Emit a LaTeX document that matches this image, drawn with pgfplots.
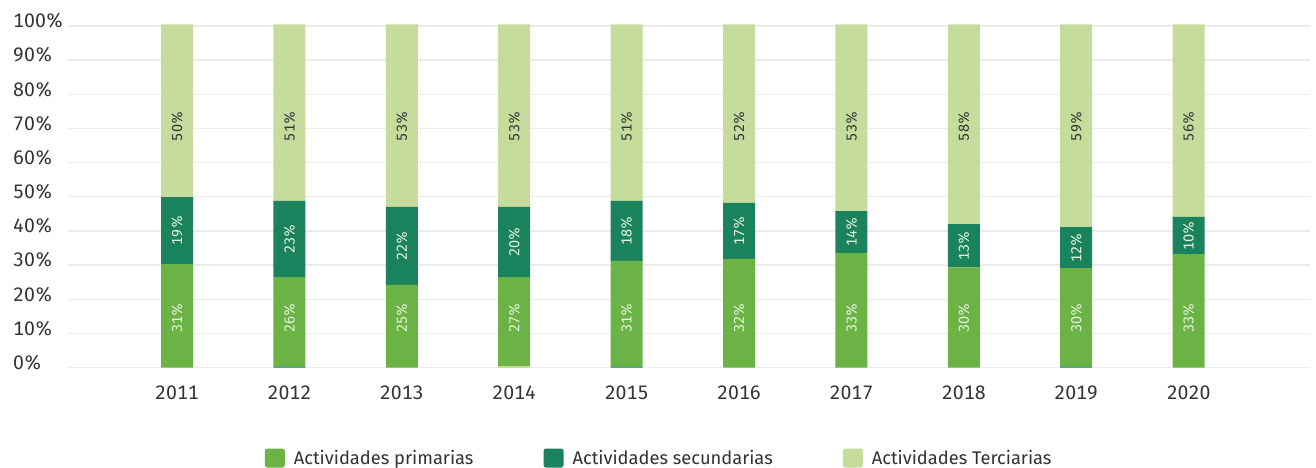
\documentclass[border=0pt]{standalone}
\usepackage{pgfplots}
\usepackage{pgfplotstable}
\pgfplotsset{compat=1.18}
\usepackage{fontspec}
\setmainfont{Fira Sans}[Numbers=Monospaced]

\definecolor{prim}{RGB}{106,179,68}
\definecolor{secu}{RGB}{26,130,93}
\definecolor{terc}{RGB}{197,220,157}
\definecolor{gridgray}{RGB}{235,235,235}
\definecolor{txt}{RGB}{51,51,51}
\definecolor{labw}{RGB}{232,243,225}

% heights (percent of the axis), labels as printed
\pgfplotstableread{
x year ed el p s t pl sl tl py sy ty
0 2011 0   0   30.3 19.6 50.6 31 19 50 14.4 40.1 70.6
1 2012 0.3 0   26.2 22.3 51.7 26 23 51 14.4 37.6 70.6
2 2013 0   0   24.2 22.8 53.5 25 22 53 14.4 35.6 70.6
3 2014 0   0.3 26.2 20.5 53.5 27 20 53 14.4 36.7 70.6
4 2015 0.3 0   30.9 17.6 51.7 31 18 51 14.4 40.0 70.6
5 2016 0   0   31.8 16.4 52.3 32 17 52 14.4 40.0 70.6
6 2017 0   0   33.5 12.3 54.7 33 14 53 14.4 39.6 70.6
7 2018 0   0   29.3 12.7 58.5 30 13 58 14.4 35.6 70.6
8 2019 0.3 0   28.8 12.0 59.4 30 12 59 14.4 35.1 70.6
9 2020 0   0   33.2 10.9 56.4 33 10 56 14.4 38.6 70.6
}\datos

\begin{document}
\begin{tikzpicture}
\begin{axis}[
    name=main,
    width=1242pt, height=341.5pt, scale only axis,
    xmin=-0.97, xmax=10.08, ymin=0, ymax=100,
    clip=false,
    ybar stacked, bar width=32pt,
    axis line style={draw=none},
    major tick length=0pt,
    ymajorgrids, grid style={draw=gridgray, line width=1.4pt},
    ytick={0,10,...,100},
    yticklabels={0\%,10\%,20\%,30\%,40\%,50\%,60\%,70\%,80\%,90\%,100\%},
    yticklabel style={anchor=west, inner sep=0pt, xshift=-55pt, yshift=5pt,
        font=\fontsize{19.5}{22}\selectfont, text=txt},
    xtick={0,...,9},
    xticklabels={2011,2012,2013,2014,2015,2016,2017,2018,2019,2020},
    xticklabel style={yshift=-15pt, font=\fontsize{19.5}{22}\selectfont, text=txt},
    legend columns=3,
    legend style={at={(0.476,-0.265)}, anchor=center, draw=none,
        font=\fontsize{18.3}{20}\selectfont, text=txt,
        /tikz/every even column/.append style={column sep=68pt}},
    legend image code/.code={\fill[#1, rounded corners=2.5pt] (0pt,-9.5pt) rectangle (20pt,9.5pt);
        \path (27pt,0pt);},
]
\addplot[fill=secu, draw=none, forget plot] table[x=x, y=ed] {\datos};
\addplot[fill=terc, draw=none, forget plot] table[x=x, y=el] {\datos};
\addplot[fill=prim, draw=none] table[x=x, y=p] {\datos};
\addplot[fill=secu, draw=none] table[x=x, y=s] {\datos};
\addplot[fill=terc, draw=none] table[x=x, y=t] {\datos};
\legend{Actividades primarias, Actividades secundarias, Actividades Terciarias}
\end{axis}

\begin{axis}[
    width=1242pt, height=341.5pt, scale only axis,
    xmin=-0.97, xmax=10.08, ymin=0, ymax=100,
    hide axis, clip=false,
    every node near coord/.style={rotate=90, anchor=center, inner sep=0pt,
        font=\fontsize{14.5}{16}\selectfont},
    point meta=explicit symbolic,
    nodes near coords={\pgfplotspointmeta\%},
]
\addplot[only marks, mark=*, mark size=0pt, mark options={draw=none, fill=none},
    nodes near coords style={text=labw}] table[x=x, y=py, meta=pl] {\datos};
\addplot[only marks, mark=*, mark size=0pt, mark options={draw=none, fill=none},
    nodes near coords style={text=labw}] table[x=x, y=sy, meta=sl] {\datos};
\addplot[only marks, mark=*, mark size=0pt, mark options={draw=none, fill=none},
    nodes near coords style={text=txt}] table[x=x, y=ty, meta=tl] {\datos};
\end{axis}
\pgfresetboundingbox
\path (main.south west) ++(-68pt,-99.5pt) rectangle ++(1316pt,467pt);
\end{tikzpicture}
\end{document}
